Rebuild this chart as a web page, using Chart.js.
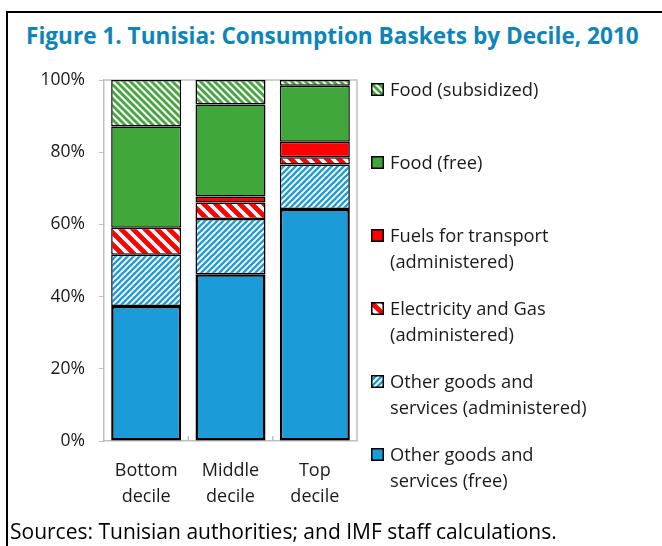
<!DOCTYPE html>
<html>
<head>
<meta charset="utf-8">
<script src="https://cdn.jsdelivr.net/npm/chart.js@4"></script>
<style>
  html, body { margin: 0; padding: 0; background: #fff; }
  body { width: 662px; height: 546px; position: relative; overflow: hidden; font-family: "Open Sans", sans-serif; }
  .frame { position: absolute; left: 6px; top: 11px; width: 700px; height: 600px; border-left: 2px solid #000; border-top: 2px solid #000; }
  .title { position: absolute; left: 26px; top: 20px; font-size: 22.6px; font-weight: bold; color: #0D85BA; white-space: nowrap; }
  .chart-wrap { position: absolute; left: 0; top: 0; width: 662px; height: 546px; }
  .legend { position: absolute; left: 371px; top: 76px; }
  .legend-item { height: 73px; display: flex; align-items: flex-start; }
  .legend-item canvas { margin-top: 7px; margin-right: 6px; flex: none; }
  .legend-item span { font-size: 18.3px; line-height: 26px; color: #1a1a1a; }
  .source { position: absolute; left: 10px; top: 517px; font-size: 21px; color: #000; white-space: nowrap; }
</style>
</head>
<body>
<div class="frame"></div>
<div class="title">Figure 1. Tunisia: Consumption Baskets by Decile, 2010</div>
<div class="chart-wrap"><canvas id="chart"></canvas></div>
<div class="legend" id="legend"></div>
<div class="source">Sources: Tunisian authorities; and IMF staff calculations.</div>
<script>
// categories and tick labels
const deciles = [["Bottom", "decile"], ["Middle", "decile"], ["Top", "decile"]];
const yTicks = [0, 20, 40, 60, 80, 100];

// series values (% of consumption basket), bottom of stack first
const otherFree = [37.4, 46.2, 64.3];
const otherAdmin = [14.2, 15.3, 12.3];
const elecGas = [7.5, 4.6, 2.0];
const fuelsTransport = [0, 1.6, 4.3];
const foodFree = [28.0, 25.5, 15.5];
const foodSubsidized = [12.9, 6.8, 1.6];

const BLUE = "#1B9CD8";
const GREEN = "#41A73B";
const RED = "#FF0000";

// striped fills, dir "/" or "\"
function stripes(ctx, color, size, dir, width) {
  const t = document.createElement("canvas");
  t.width = size; t.height = size;
  const c = t.getContext("2d");
  c.fillStyle = "#fff";
  c.fillRect(0, 0, size, size);
  c.strokeStyle = color;
  c.lineWidth = width;
  c.beginPath();
  if (dir === "/") {
    c.moveTo(0, size); c.lineTo(size, 0);
    c.moveTo(-size / 2, size / 2); c.lineTo(size / 2, -size / 2);
    c.moveTo(size / 2, size * 1.5); c.lineTo(size * 1.5, size / 2);
  } else {
    c.moveTo(0, 0); c.lineTo(size, size);
    c.moveTo(-size / 2, size / 2); c.lineTo(size / 2, size * 1.5);
    c.moveTo(size / 2, -size / 2); c.lineTo(size * 1.5, size / 2);
  }
  c.stroke();
  return ctx.createPattern(t, "repeat");
}

// fill spec per series: solid colour or stripe pattern
const fills = {
  otherFree: { color: BLUE },
  otherAdmin: { color: BLUE, size: 6, dir: "/", w: 2.3 },
  elecGas: { color: RED, size: 12, dir: "\\", w: 4.8 },
  fuelsTransport: { color: RED },
  foodFree: { color: GREEN },
  foodSubsidized: { color: GREEN, size: 7, dir: "\\", w: 2.8 },
};

function makeFill(ctx, f) {
  return f.size ? stripes(ctx, f.color, f.size, f.dir, f.w) : f.color;
}

const series = [
  { key: "otherFree", label: ["Other goods and", "services (free)"], data: otherFree, bw: 2.5 },
  { key: "otherAdmin", label: ["Other goods and", "services (administered)"], data: otherAdmin, bw: 1.5 },
  { key: "elecGas", label: ["Electricity and Gas", "(administered)"], data: elecGas, bw: 1.5 },
  { key: "fuelsTransport", label: ["Fuels for transport", "(administered)"], data: fuelsTransport, bw: 1.5 },
  { key: "foodFree", label: ["Food (free)"], data: foodFree, bw: 1.5 },
  { key: "foodSubsidized", label: ["Food (subsidized)"], data: foodSubsidized, bw: 1.5 },
];

const canvas = document.getElementById("chart");
const ctx = canvas.getContext("2d");

// gray plot frame + small category ticks, like the Excel original
const plotFrame = {
  id: "plotFrame",
  beforeDatasetsDraw(chart) {
    const { ctx, chartArea: a, scales } = chart;
    ctx.save();
    ctx.strokeStyle = "#BFBFBF";
    ctx.lineWidth = 1.5;
    ctx.beginPath();
    ctx.moveTo(a.left, a.top); ctx.lineTo(a.right, a.top); ctx.lineTo(a.right, a.bottom);
    const xs = scales.x;
    for (let i = 1; i < deciles.length; i++) {
      const x = (xs.getPixelForValue(i - 1) + xs.getPixelForValue(i)) / 2;
      ctx.moveTo(x, a.bottom); ctx.lineTo(x, a.bottom - 5);
    }
    ctx.stroke();
    ctx.restore();
  },
};

new Chart(canvas, {
  type: "bar",
  data: {
    labels: deciles,
    datasets: series.map((s) => ({
      label: s.label.join(" "),
      data: s.data,
      backgroundColor: makeFill(ctx, fills[s.key]),
      borderColor: "#000",
      borderWidth: s.bw,
      borderSkipped: false,
      barPercentage: 0.83,
      categoryPercentage: 1,
    })),
  },
  options: {
    responsive: true,
    maintainAspectRatio: false,
    animation: false,
    layout: { padding: { top: 80, right: 305, bottom: 0, left: 0 } },
    plugins: {
      legend: { display: false },
      tooltip: { enabled: false },
    },
    scales: {
      x: {
        stacked: true,
        grid: { display: false },
        border: { color: "#BFBFBF", width: 1.5 },
        ticks: { color: "#1a1a1a", padding: 9, font: { family: "Open Sans", size: 18, lineHeight: 1.45 } },
        afterFit: (s) => { s.height = 105; },
      },
      y: {
        stacked: true,
        min: 0,
        max: 100,
        afterBuildTicks: (s) => { s.ticks = yTicks.map((v) => ({ value: v })); },
        grid: { drawOnChartArea: false, tickLength: 5, tickColor: "#BFBFBF" },
        border: { color: "#BFBFBF", width: 1.5 },
        ticks: { color: "#1a1a1a", padding: 14, font: { family: "Open Sans", size: 17.5 }, callback: (v) => v + "%" },
        afterFit: (s) => { s.width = 104; },
      },
    },
  },
  plugins: [plotFrame],
});

// HTML legend, top entry = top of stack
const legend = document.getElementById("legend");
series.slice().reverse().forEach((s) => {
  const item = document.createElement("div");
  item.className = "legend-item";
  const sw = document.createElement("canvas");
  sw.width = 13; sw.height = 13;
  const sc = sw.getContext("2d");
  sc.fillStyle = makeFill(sc, fills[s.key]);
  sc.fillRect(0, 0, 13, 13);
  sc.strokeStyle = "#000";
  sc.lineWidth = 1.5;
  sc.strokeRect(0.75, 0.75, 11.5, 11.5);
  const txt = document.createElement("span");
  txt.innerHTML = s.label.join("<br>");
  item.appendChild(sw);
  item.appendChild(txt);
  legend.appendChild(item);
});
</script>
</body>
</html>
